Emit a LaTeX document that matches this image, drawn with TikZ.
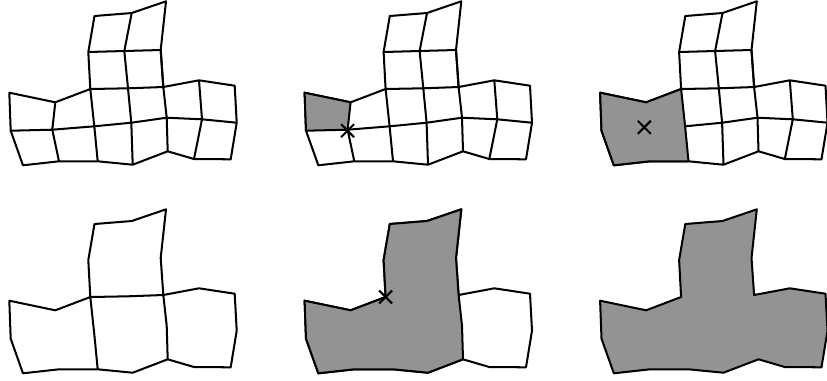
\documentclass[tikz,border=0pt]{standalone}
\definecolor{ink}{HTML}{000000}
\definecolor{cellgray}{HTML}{939393}

% mesh vertices, in reference pixels, relative to the panel
\newcommand{\meshpoints}{
  \foreach \n/\x/\y in {a1/94.5/16, a2/131.7/13, a3/166/1.3,
                        b1/88.3/52, b2/124.3/51, b3/160.7/50,
                        c0/9.3/92.7, cm/55.3/102.3, c1/90.3/89, c2/128/88.3, c3/163.3/87, c4/199/80.3, c5/234.7/85.7,
                        d0/10.7/130.7, dm/52.3/129.7, d1/94.3/126.3, d2/131.3/122.7, d3/166.7/117.7, d4/202/119.3, d5/236.7/122.7,
                        e0/23/165.3, em/59/161.3, e1/97.7/161.3, e2/132.7/164.7, e3/167.7/151.3, e4/194/159, e5/230.7/159.3}
    \coordinate (\n) at (\x,\y);
}
% right-hand part of the mesh, shared by the upper panels
\newcommand{\meshright}{
  \draw[edge] (b1) -- (b2) -- (b3);
  \draw[edge] (c1) -- (c2) -- (c3);
  \draw[edge] (d1) -- (d2) -- (d3) -- (d4) -- (d5);
  \draw[edge] (a2) -- (b2) -- (c2) -- (d2) -- (e2);
  \draw[edge] (b3) -- (c3) -- (d3) -- (e3);
  \draw[edge] (c4) -- (d4) -- (e4);
}
% outline of the whole mesh, from the top left corner
\newcommand{\outlinepath}{(a1) -- (a2) -- (a3) -- (b3) -- (c3) -- (c4) -- (c5) -- (d5) -- (e5) -- (e4) -- (e3) -- (e2) -- (e1) -- (em) -- (e0) -- (d0) -- (c0) -- (cm) -- (c1) -- (b1) -- cycle}

\begin{document}
\begin{tikzpicture}[
    x=0.02cm, y=-0.02cm,
    edge/.style={draw=ink, line width=1.15pt, line join=round},
    cell/.style={edge, fill=cellgray},
    mark cross/.style={draw=ink, line width=1.15pt}]
  % fixed 827 x 380 canvas
  \path[use as bounding box] (0,0) rectangle (827,380);

  % ================= 1) full mesh =================
  \begin{scope}[shift={(0,0)}]
    \meshpoints
    \draw[edge] \outlinepath;
    \meshright
    \draw[edge] (d0) -- (dm) -- (d1);
    \draw[edge] (cm) -- (dm) -- (em);
    \draw[edge] (c1) -- (d1) -- (e1);
  \end{scope}

  % ================= 2) one cell picked =================
  \begin{scope}[shift={(295.3,0)}]
    \meshpoints
    \draw[edge] \outlinepath;
    \draw[cell] (c0) -- (cm) -- (dm) -- (d0) -- cycle;
    \meshright
    \draw[edge] (dm) -- (d1);
    \draw[edge] (dm) -- (em);
    \draw[edge] (c1) -- (d1) -- (e1);
    \draw[mark cross] (52.3,130.7) ++(-6.5,-6.5) -- ++(13,13) ++(-13,0) -- ++(13,-13);
  \end{scope}

  % ================= 3) left block merged =================
  \begin{scope}[shift={(590.8,0)}]
    \meshpoints
    \draw[edge] \outlinepath;
    \draw[cell] (c0) -- (cm) -- (c1) -- (d1) -- (e1) -- (em) -- (e0) -- (d0) -- cycle;
    \meshright
    \draw[mark cross] (53.5,127.3) ++(-6.5,-6.5) -- ++(13,13) ++(-13,0) -- ++(13,-13);
  \end{scope}

  % ================= 4) coarse mesh =================
  \begin{scope}[shift={(0,208)}]
    \meshpoints
    \draw[edge] \outlinepath;
    \draw[edge] (c1) -- (c2) -- (c3);
    \draw[edge] (c1) -- (d1) -- (e1);
    \draw[edge] (c3) -- (d3) -- (e3);
  \end{scope}

  % ================= 5) coarse cells merged =================
  \begin{scope}[shift={(295.3,208)}]
    \meshpoints
    \draw[edge] \outlinepath;
    \draw[cell] (a1) -- (a2) -- (a3) -- (b3) -- (c3) -- (d3) -- (e3) -- (e2) -- (e1) -- (em) -- (e0) -- (d0) -- (c0) -- (cm) -- (c1) -- (b1) -- cycle;
    \draw[mark cross] (c1) ++(-6.5,-6.5) -- ++(13,13) ++(-13,0) -- ++(13,-13);
  \end{scope}

  % ================= 6) single region =================
  \begin{scope}[shift={(590.8,208)}]
    \meshpoints
    \draw[cell] \outlinepath;
  \end{scope}
\end{tikzpicture}
\end{document}
